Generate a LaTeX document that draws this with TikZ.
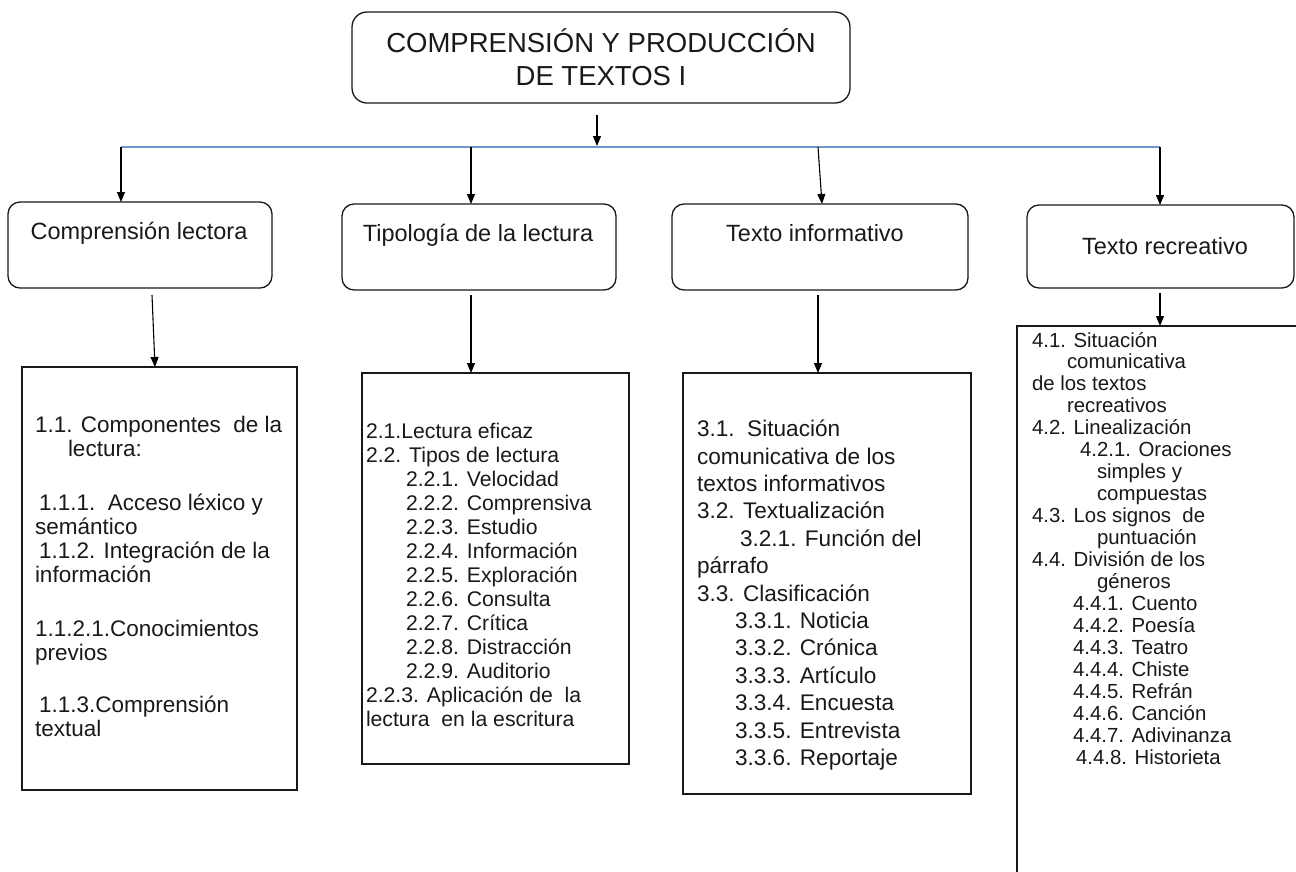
\documentclass[tikz,border=0pt]{standalone}
\usepackage{fontspec}
\setmainfont{Liberation Sans}
\usetikzlibrary{arrows.meta}
\definecolor{bline}{RGB}{112,150,205}
\definecolor{ink}{RGB}{25,25,25}
\begin{document}
\begin{tikzpicture}[x=1pt,y=-1pt,
  every node/.style={inner sep=0pt, outer sep=0pt, text=ink},
  rbox/.style={draw=ink, line width=1.3pt, rounded corners=12pt, anchor=north west},
  cbox/.style={draw=ink, line width=1.3pt, anchor=north west},
  arr/.style={draw=black, line width=1.1pt, -{Triangle[length=10pt,width=8pt]}},
  txt/.style={anchor=north west, align=left},
  head/.style={font=\fontsize{23.5}{27}\selectfont},
]
\useasboundingbox (0,0) rectangle (1296,871);

% title
\node[rbox, rounded corners=15pt, minimum width=498pt, minimum height=91pt,
      align=center, font=\fontsize{27.5}{33}\selectfont] (root) at (352,12)
  {COMPRENSIÓN Y PRODUCCIÓN\\DE TEXTOS I};

% level 2 boxes
\node[rbox, minimum width=264pt, minimum height=86pt] (b1) at (8,202) {};
\node[rbox, minimum width=274pt, minimum height=86pt] (b2) at (342,204) {};
\node[rbox, minimum width=296pt, minimum height=86pt] (b3) at (672,204) {};
\node[rbox, minimum width=267pt, minimum height=83pt] (b4) at (1027,205) {};
\node[head] (t1) at (139,233) {Comprensión lectora};
\node[head] (t2) at (478,235) {Tipología de la lectura};
\node[head] (t3) at (815,233) {Texto informativo};
\node[head] (t4) at (1165,246) {Texto recreativo};

% content boxes
\node[cbox, minimum width=275pt, minimum height=423pt] (c1) at (22,367) {};
\node[cbox, minimum width=267pt, minimum height=391pt] (c2) at (362,373) {};
\node[cbox, minimum width=288pt, minimum height=421pt] (c3) at (683,373) {};
\node[cbox, minimum width=293pt, minimum height=564pt] (c4) at (1017,326) {};

\node[txt, font=\fontsize{22.5}{24}\selectfont] (x1) at (35,416)
 {1.1. Componentes\ \ de la\\
  \hspace*{33pt}lectura:\\[30pt]
  \hspace*{4pt}1.1.1.\ \ Acceso léxico y\\
  semántico\\
  \hspace*{4pt}1.1.2. Integración de la\\
  información\\[30pt]
  1.1.2.1.Conocimientos\\
  previos\\[28pt]
  \hspace*{4pt}1.1.3.Comprensión\\
  textual};

\node[txt, font=\fontsize{21.2}{24}\selectfont] (x2) at (366,423)
 {2.1.Lectura eficaz\\
  2.2. Tipos de lectura\\
  \hspace*{40pt}2.2.1. Velocidad\\
  \hspace*{40pt}2.2.2. Comprensiva\\
  \hspace*{40pt}2.2.3. Estudio\\
  \hspace*{40pt}2.2.4. Información\\
  \hspace*{40pt}2.2.5. Exploración\\
  \hspace*{40pt}2.2.6. Consulta\\
  \hspace*{40pt}2.2.7. Crítica\\
  \hspace*{40pt}2.2.8. Distracción\\
  \hspace*{40pt}2.2.9. Auditorio\\
  2.2.3. Aplicación de\ \ la\\
  lectura\ \ en la escritura};

\node[txt, font=\fontsize{22.6}{27.4}\selectfont] (x3) at (697,420)
 {3.1.\ \ Situación\\
  comunicativa de los\\
  textos informativos\\
  3.2. Textualización\\
  \hspace*{43pt}3.2.1. Función del\\
  párrafo\\
  3.3. Clasificación\\
  \hspace*{38pt}3.3.1. Noticia\\
  \hspace*{38pt}3.3.2. Crónica\\
  \hspace*{38pt}3.3.3. Artículo\\
  \hspace*{38pt}3.3.4. Encuesta\\
  \hspace*{38pt}3.3.5. Entrevista\\
  \hspace*{38pt}3.3.6. Reportaje};

\node[txt, font=\fontsize{20.4}{21.95}\selectfont] (x4) at (1032,332)
 {4.1. Situación\\
  \hspace*{35pt}comunicativa\\
  de los textos\\
  \hspace*{35pt}recreativos\\
  4.2. Linealización\\
  \hspace*{48pt}4.2.1. Oraciones\\
  \hspace*{65pt}simples y\\
  \hspace*{65pt}compuestas\\
  4.3. Los signos\ \ de\\
  \hspace*{65pt}puntuación\\
  4.4. División de los\\
  \hspace*{65pt}géneros\\
  \hspace*{41pt}4.4.1. Cuento\\
  \hspace*{41pt}4.4.2. Poesía\\
  \hspace*{41pt}4.4.3. Teatro\\
  \hspace*{41pt}4.4.4. Chiste\\
  \hspace*{41pt}4.4.5. Refrán\\
  \hspace*{41pt}4.4.6. Canción\\
  \hspace*{41pt}4.4.7. Adivinanza\\
  \hspace*{44pt}4.4.8. Historieta};

% connectors
\coordinate (r0) at (597,115);
\coordinate (h0) at (597,146);
\coordinate (hl) at (121,147);
\coordinate (h2) at (471,147);
\coordinate (h3) at (818,147);
\coordinate (h3e) at (822,204);
\coordinate (hr) at (1160,147);
\draw[arr] (r0) -- (h0);
\draw[bline, line width=2pt] (hl) -- (hr);
\draw[arr] (hl) -- (hl |- b1.north);
\draw[arr] (h2) -- (h2 |- b2.north);
\draw[arr] (h3) -- (h3e);
\draw[arr] (hr) -- (hr |- b4.north);

\coordinate (d1) at (152,295);
\coordinate (e1) at (155,367);
\coordinate (d2) at (471,295);
\coordinate (d3) at (818,295);
\coordinate (d4) at (1160,293);
\draw[arr] (d1) -- (e1);
\draw[arr] (d2) -- (d2 |- c2.north);
\draw[arr] (d3) -- (d3 |- c3.north);
\draw[arr] (d4) -- (d4 |- c4.north);
\end{tikzpicture}
\end{document}
